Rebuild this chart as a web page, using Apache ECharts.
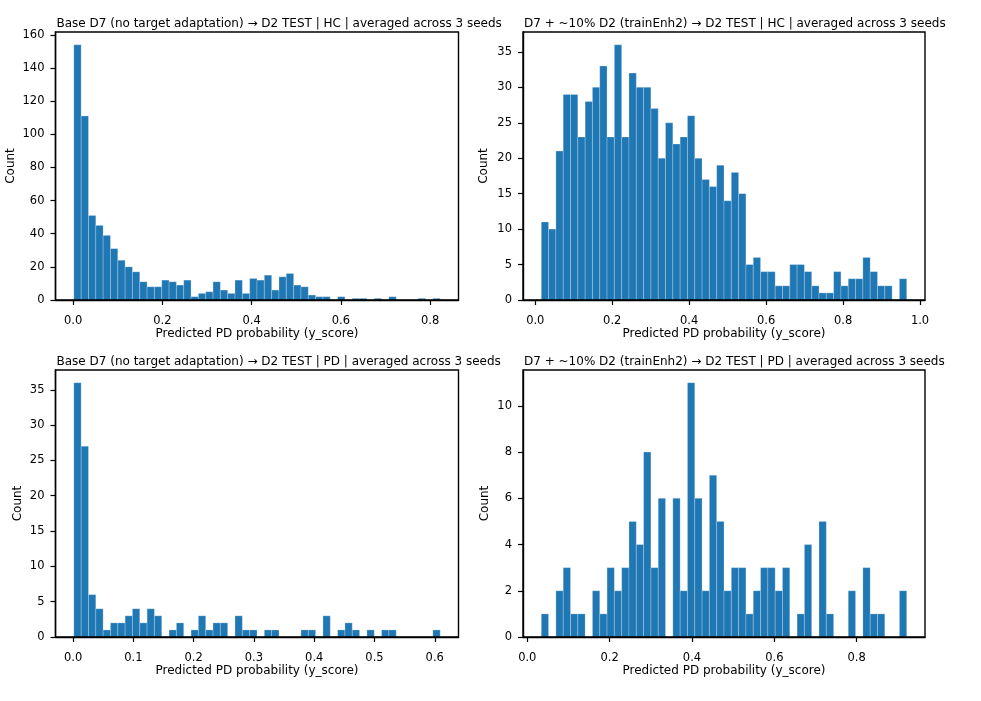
<!DOCTYPE html>
<html>
<head>
    <meta charset="utf-8">
    <title>y_score histograms</title>
    <script src="https://cdn.jsdelivr.net/npm/echarts@6.0.0/dist/echarts.min.js"></script>
    <style>
        html, body { margin: 0; padding: 0; background: #fff; }
        #chart { width: 981px; height: 701px; }
    </style>
</head>
<body>
<div id="chart"></div>
<script>
    // counts per bin (50 bins each)
    var hcBase = [154, 111, 51, 45, 39, 31, 24, 20, 17, 11,
                  8, 8, 12, 11, 9, 12, 2, 4, 5, 11,
                  6, 4, 12, 4, 13, 12, 15, 6, 14, 16,
                  9, 8, 3, 2, 2, 0, 2, 0, 1, 1,
                  0, 1, 0, 2, 0, 0, 0, 1, 0, 1];
    var hcEnh = [11, 10, 21, 29, 29, 23, 28, 30, 33, 23,
                 36, 23, 32, 30, 30, 27, 20, 25, 22, 23,
                 26, 20, 17, 16, 19, 14, 18, 15, 5, 6,
                 4, 4, 2, 2, 5, 5, 4, 2, 1, 1,
                 4, 2, 3, 3, 6, 4, 2, 2, 0, 3];
    var pdBase = [36, 27, 6, 4, 1, 2, 2, 3, 4, 2,
                  4, 3, 0, 1, 2, 0, 1, 3, 1, 2,
                  2, 0, 3, 1, 1, 0, 1, 1, 0, 0,
                  0, 1, 1, 0, 3, 0, 1, 2, 1, 0,
                  1, 0, 1, 1, 0, 0, 0, 0, 0, 1];
    var pdEnh = [1, 0, 2, 3, 1, 1, 0, 2, 1, 3,
                 2, 3, 5, 4, 8, 3, 6, 0, 6, 2,
                 11, 6, 2, 7, 5, 2, 3, 3, 1, 2,
                 3, 3, 2, 3, 0, 1, 4, 0, 5, 1,
                 0, 0, 2, 0, 3, 1, 1, 0, 0, 2];

    // data range of the scores (first / last bin edge)
    var hcBaseRange = [0.0016, 0.8225];
    var hcEnhRange = [0.0156, 0.9654];
    var pdBaseRange = [0.0012, 0.609];
    var pdEnhRange = [0.034, 0.9215];

    // tick labels
    var xTicksHcBase = [0, 0.2, 0.4, 0.6, 0.8];
    var xTicksHcEnh = [0, 0.2, 0.4, 0.6, 0.8, 1.0];
    var xTicksPdBase = [0, 0.1, 0.2, 0.3, 0.4, 0.5, 0.6];
    var xTicksPdEnh = [0, 0.2, 0.4, 0.6, 0.8];
    var yTicksHcBase = [0, 20, 40, 60, 80, 100, 120, 140, 160];
    var yTicksHcEnh = [0, 5, 10, 15, 20, 25, 30, 35];
    var yTicksPdBase = [0, 5, 10, 15, 20, 25, 30, 35];
    var yTicksPdEnh = [0, 2, 4, 6, 8, 10];

    var titles = [
        'Base D7 (no target adaptation) \u2192 D2 TEST | HC | averaged across 3 seeds',
        'D7 + ~10% D2 (trainEnh2) \u2192 D2 TEST | HC | averaged across 3 seeds',
        'Base D7 (no target adaptation) \u2192 D2 TEST | PD | averaged across 3 seeds',
        'D7 + ~10% D2 (trainEnh2) \u2192 D2 TEST | PD | averaged across 3 seeds'
    ];

    var font = 'DejaVu Sans';
    var panels = [
        {counts: hcBase, range: hcBaseRange, xt: xTicksHcBase, yt: yTicksHcBase, left: 55.5, top: 32, w: 403, h: 268, yGap: 39},
        {counts: hcEnh, range: hcEnhRange, xt: xTicksHcEnh, yt: yTicksHcEnh, left: 523, top: 32, w: 402, h: 268, yGap: 33},
        {counts: pdBase, range: pdBaseRange, xt: xTicksPdBase, yt: yTicksPdBase, left: 55.5, top: 370, w: 403, h: 267, yGap: 32},
        {counts: pdEnh, range: pdEnhRange, xt: xTicksPdEnh, yt: yTicksPdEnh, left: 523, top: 370, w: 402, h: 267, yGap: 32}
    ];

    function binData(counts, range) {
        var n = counts.length, step = (range[1] - range[0]) / n, out = [];
        for (var i = 0; i < n; i++) {
            out.push([range[0] + i * step, range[0] + (i + 1) * step, counts[i]]);
        }
        return out;
    }

    function renderBin(params, api) {
        var h = api.value(2);
        if (!h) return;
        var p0 = api.coord([api.value(0), 0]);
        var p1 = api.coord([api.value(1), h]);
        return {
            type: 'rect',
            shape: {x: p0[0], y: p1[1], width: p1[0] - p0[0], height: p0[1] - p1[1]},
            style: {fill: '#1f77b4', stroke: 'rgba(255,255,255,0.4)', lineWidth: 0.6}
        };
    }

    var option = {
        animation: false,
        backgroundColor: '#fff',
        title: [], grid: [], xAxis: [], yAxis: [], series: []
    };

    var axisLine = {show: true, onZero: false, lineStyle: {color: '#000', width: 1.4}};
    var axisTick = {show: true, length: 5, lineStyle: {color: '#000', width: 1.2}};

    panels.forEach(function (p, i) {
        var pad = (p.range[1] - p.range[0]) * 0.05;
        var ymax = Math.max.apply(null, p.counts) * 1.05;
        option.title.push({
            text: titles[i], left: p.left + 1, top: p.top - 14, padding: 0,
            textStyle: {fontFamily: font, fontSize: 12, fontWeight: 'normal', color: '#000'}
        });
        option.grid.push({
            left: p.left, top: p.top, width: p.w, height: p.h, z: 5,
            show: true, borderColor: '#000', borderWidth: 1.4, backgroundColor: 'transparent'
        });
        option.xAxis.push({
            type: 'value', gridIndex: i, z: 5,
            min: p.range[0] - pad, max: p.range[1] + pad,
            name: 'Predicted PD probability (y_score)', nameLocation: 'middle', nameGap: 28,
            nameTextStyle: {fontFamily: font, fontSize: 12, color: '#000'},
            axisLine: axisLine,
            axisTick: Object.assign({customValues: p.xt}, axisTick),
            axisLabel: {
                customValues: p.xt, margin: 15, fontFamily: font, fontSize: 11.5, color: '#000',
                formatter: function (v) { return v.toFixed(1); }
            },
            splitLine: {show: false}
        });
        option.yAxis.push({
            type: 'value', gridIndex: i, min: 0, max: ymax, z: 5,
            name: 'Count', nameLocation: 'middle', nameGap: p.yGap,
            nameTextStyle: {fontFamily: font, fontSize: 12, color: '#000'},
            axisLine: axisLine,
            axisTick: Object.assign({customValues: p.yt}, axisTick),
            axisLabel: {customValues: p.yt, margin: 11, fontFamily: font, fontSize: 11.5, color: '#000'},
            splitLine: {show: false}
        });
        option.series.push({
            type: 'custom', xAxisIndex: i, yAxisIndex: i, z: 1,
            renderItem: renderBin,
            encode: {x: [0, 1], y: 2},
            data: binData(p.counts, p.range)
        });
    });

    var chart = echarts.init(document.getElementById('chart'));
    chart.setOption(option);
</script>
</body>
</html>
